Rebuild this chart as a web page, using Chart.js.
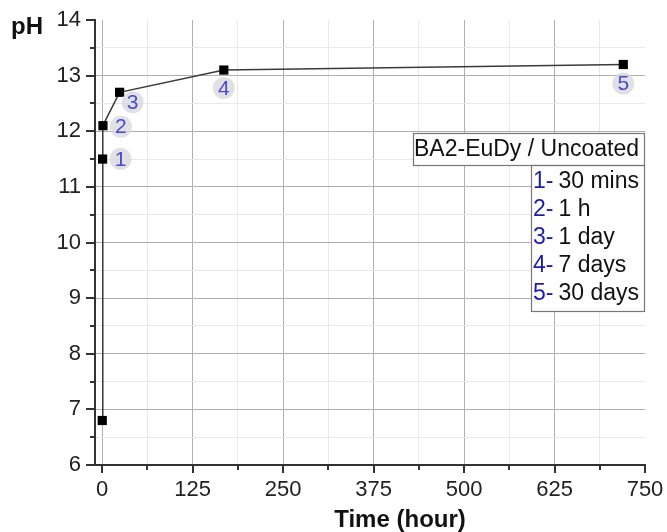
<!DOCTYPE html>
<html lang="en">
<head>
  <meta charset="UTF-8" />
  <title>pH vs time</title>
  <script src="https://cdn.jsdelivr.net/npm/chart.js"></script>
  <style>
    body {
        margin: 0;
        background: #fff;
    }
    .wrap {
        width: 667px;
        height: 532px;
        position: relative;
    }
  </style>
</head>
<body>
  <div class="wrap"><canvas id="phChart"></canvas></div>

  <script>
    // data
    const hours = [0, 0.5, 1, 24, 168, 720];
    const phValues = [6.8, 11.5, 12.1, 12.7, 13.1, 13.2];
    const pointTags = ['', '1', '2', '3', '4', '5'];

    const xMajorTicks = [0, 125, 250, 375, 500, 625, 750];
    const yMajorTicks = [6, 7, 8, 9, 10, 11, 12, 13, 14];

    const legendTitle = 'BA2-EuDy / Uncoated';
    const legendNums = ['1-', '2-', '3-', '4-', '5-'];
    const legendTexts = ['30 mins', '1 h', '1 day', '7 days', '30 days'];

    const xTitle = 'Time (hour)';
    const yTitle = 'pH';

    // major ticks plus a minor one halfway between each pair
    function withMinor(major) {
      const out = [];
      major.forEach((v, i) => {
        out.push(v);
        if (i < major.length - 1) out.push((v + major[i + 1]) / 2);
      });
      return out;
    }
    const xAllTicks = withMinor(xMajorTicks);
    const yAllTicks = withMinor(yMajorTicks);

    const FONT = '"Liberation Sans", Arial, sans-serif';
    const AXIS = '#333';

    function gridColor(ctx, majors, last) {
      const v = ctx.tick ? ctx.tick.value : null;
      if (v === last) return 'rgba(0,0,0,0)';
      return majors.includes(v) ? '#b0b0b0' : '#e8e8e8';
    }

    // tick marks, point tags, legend box and axis titles
    const extras = {
      id: 'extras',
      afterDatasetsDraw(chart) {
        const { ctx } = chart;
        const meta = chart.getDatasetMeta(0);
        // offsets of the numbered tags from their points
        const tagOffsets = [[0, 0], [18, 0], [18, 1], [13, 10], [0, 18], [0, 19]];
        ctx.save();
        ctx.font = '21px ' + FONT;
        ctx.textAlign = 'center';
        ctx.textBaseline = 'middle';
        meta.data.forEach((pt, i) => {
          if (!pointTags[i]) return;
          const cx = pt.x + tagOffsets[i][0], cy = pt.y + tagOffsets[i][1];
          ctx.fillStyle = 'rgba(215,215,220,0.75)';
          ctx.beginPath();
          ctx.arc(cx, cy, 11, 0, Math.PI * 2);
          ctx.fill();
          ctx.fillStyle = '#4a4ad0';
          ctx.fillText(pointTags[i], cx, cy + 1);
        });
        ctx.restore();
      },
      afterDraw(chart) {
        const { ctx, chartArea } = chart;
        const xs = chart.scales.x, ys = chart.scales.y;
        ctx.save();
        ctx.strokeStyle = AXIS;
        ctx.lineWidth = 2;
        ctx.beginPath();
        xAllTicks.forEach(v => {
          const px = Math.round(xs.getPixelForValue(v));
          const len = xMajorTicks.includes(v) ? 8 : 5;
          ctx.moveTo(px, chartArea.bottom);
          ctx.lineTo(px, chartArea.bottom + len);
        });
        yAllTicks.forEach(v => {
          const py = Math.round(ys.getPixelForValue(v));
          const len = yMajorTicks.includes(v) ? 9 : 5;
          ctx.moveTo(chartArea.left, py);
          ctx.lineTo(chartArea.left - len, py);
        });
        ctx.stroke();

        // legend
        const bx = 413, by = 133, bw = 231, bh = 32;
        const lx = 531, lh = 146, rowH = 28;
        ctx.fillStyle = '#fff';
        ctx.fillRect(bx, by, bw, bh);
        ctx.fillRect(lx, by + bh, bx + bw - lx, lh);
        ctx.strokeStyle = '#777';
        ctx.lineWidth = 1.2;
        ctx.strokeRect(bx + 0.5, by + 0.5, bw, bh);
        ctx.strokeRect(lx + 0.5, by + bh + 0.5, bx + bw - lx, lh);
        ctx.font = '23px ' + FONT;
        ctx.textBaseline = 'middle';
        ctx.textAlign = 'left';
        ctx.fillStyle = '#111';
        ctx.fillText(legendTitle, bx + 1, by + bh / 2 + 1);
        legendNums.forEach((n, i) => {
          const ty = by + bh + 17 + i * rowH;
          ctx.fillStyle = '#1c1ca8';
          ctx.fillText(n, lx + 2, ty);
          const w = ctx.measureText(n).width + 5;
          ctx.fillStyle = '#111';
          ctx.fillText(legendTexts[i], lx + 2 + w, ty);
        });

        // axis titles
        ctx.font = 'bold 24px ' + FONT;
        ctx.fillStyle = '#111';
        ctx.textAlign = 'left';
        ctx.fillText(yTitle, 11, 27);
        ctx.textAlign = 'center';
        ctx.fillText(xTitle, 400, 520);
        ctx.restore();
      }
    };

    new Chart(document.getElementById('phChart'), {
      type: 'scatter',
      data: {
        datasets: [{
          data: hours.map((h, i) => ({ x: h, y: phValues[i] })),
          showLine: true,
          borderColor: '#3a3a3a',
          borderWidth: 1.5,
          pointStyle: 'rect',
          pointRadius: 6.5,
          pointHoverRadius: 6.5,
          pointBackgroundColor: '#000',
          pointBorderColor: '#000',
          pointBorderWidth: 0,
          clip: false
        }]
      },
      options: {
        responsive: true,
        maintainAspectRatio: false,
        animation: false,
        layout: { padding: { top: 20, right: 22, left: 0, bottom: 0 } },
        plugins: {
          legend: { display: false },
          tooltip: { enabled: false }
        },
        scales: {
          x: {
            type: 'linear',
            min: -10,
            max: 750,
            afterBuildTicks(scale) { scale.ticks = xAllTicks.map(v => ({ value: v })); },
            afterFit(scale) {
              scale.height = 67;
              scale.paddingLeft = 0;
              scale.paddingRight = 0;
            },
            grid: {
              drawTicks: false,
              color: ctx => gridColor(ctx, xMajorTicks, 750),
              lineWidth: 1
            },
            border: { display: true, color: AXIS, width: 2 },
            ticks: {
              autoSkip: false,
              maxRotation: 0,
              padding: 12,
              color: '#222',
              font: { family: FONT, size: 22 },
              callback: v => xMajorTicks.includes(v) ? String(v) : ''
            }
          },
          y: {
            min: 6,
            max: 14,
            afterBuildTicks(scale) { scale.ticks = yAllTicks.map(v => ({ value: v })); },
            afterFit(scale) {
              scale.width = 95;
              scale.paddingTop = 0;
              scale.paddingBottom = 0;
            },
            grid: {
              drawTicks: false,
              color: ctx => gridColor(ctx, yMajorTicks, 14),
              lineWidth: 1
            },
            border: { display: true, color: AXIS, width: 2 },
            ticks: {
              autoSkip: false,
              padding: 14,
              color: '#222',
              font: { family: FONT, size: 22 },
              callback: v => yMajorTicks.includes(v) ? String(v) : ''
            }
          }
        }
      },
      plugins: [extras]
    });
  </script>
</body>
</html>
